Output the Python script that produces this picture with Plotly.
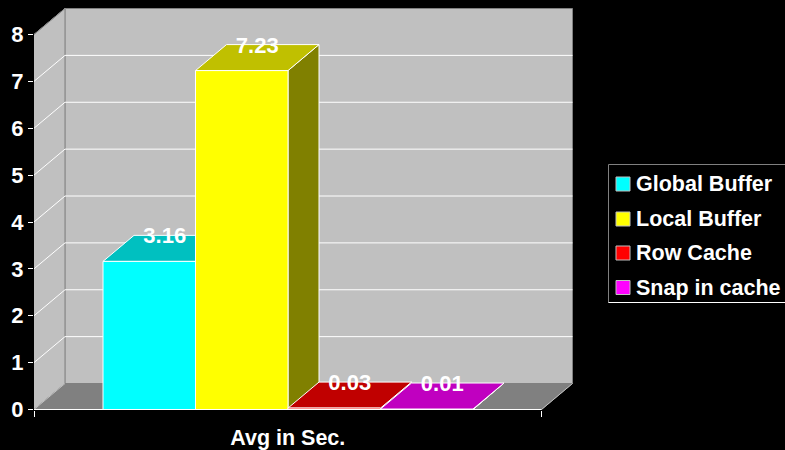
import plotly.graph_objects as go

# Chart data
category = "Avg in Sec."
series_names = ["Global Buffer", "Local Buffer", "Row Cache", "Snap in cache"]
series_values = [3.16, 7.23, 0.03, 0.01]
front_colors = ["#00FFFF", "#FFFF00", "#FF0000", "#FF00FF"]
top_colors = ["#00C0C0", "#C0C000", "#C00000", "#C000C0"]
side_colors = ["#008080", "#808000", "#800000", "#800080"]
value_ticks = [0, 1, 2, 3, 4, 5, 6, 7, 8]

# Axis scale in pixels per unit
X_UNIT = 507.5
Y_UNIT = 46.875

# Oblique projection and bar layout, in axis units
DEPTH_X = 31 / X_UNIT
DEPTH_Y = 26 / Y_UNIT
BAR_WIDTH = 92.5 / X_UNIT
BAR_START = 69 / X_UNIT
LABEL_DROP = 2.5 / Y_UNIT

# Plot area edges in pixels
LEFT, RIGHT, TOP, BOTTOM = 34, 574, 8, 410

FONT = dict(family="Liberation Sans", size=21.5, color="#FFFFFF", weight=700)
BIG_FONT = dict(FONT, size=22)

fig = go.Figure()


def poly(xs, ys, fill, line=None, width=1):
    fig.add_trace(go.Scatter(
        x=list(xs) + [xs[0]], y=list(ys) + [ys[0]], mode="lines", fill="toself",
        fillcolor=fill, line=dict(color=line or fill, width=width),
        hoverinfo="skip", showlegend=False,
    ))


def seg(xs, ys, color="#FFFFFF", width=1):
    fig.add_trace(go.Scatter(
        x=xs, y=ys, mode="lines", line=dict(color=color, width=width),
        hoverinfo="skip", showlegend=False,
    ))


def paper_x(px):
    return (px - LEFT) / (RIGHT - LEFT)


def paper_y(py):
    return (BOTTOM - py) / (BOTTOM - TOP)


top = value_ticks[-1]

# Walls and floor
poly([DEPTH_X, 1 + DEPTH_X, 1 + DEPTH_X, DEPTH_X],
     [DEPTH_Y, DEPTH_Y, top + DEPTH_Y, top + DEPTH_Y], "#C0C0C0", "#808080")
poly([0, DEPTH_X, DEPTH_X, 0], [0, DEPTH_Y, top + DEPTH_Y, top], "#C0C0C0")
seg([DEPTH_X, DEPTH_X], [DEPTH_Y, top + DEPTH_Y], "#808080")
seg([0, DEPTH_X], [top, top + DEPTH_Y], "#808080")
poly([0, 1, 1 + DEPTH_X, DEPTH_X], [0, 0, DEPTH_Y, DEPTH_Y], "#808080")
seg([0, DEPTH_X], [0, DEPTH_Y], "#C0C0C0")
seg([1, 1 + DEPTH_X], [0, DEPTH_Y], "#C0C0C0")

# Gridlines on both walls
for v in value_ticks[1:-1]:
    seg([0, DEPTH_X, 1 + DEPTH_X], [v, v + DEPTH_Y, v + DEPTH_Y], "#FFFFFF")

# Bars, painted left to right so nearer faces cover earlier ones
for i, v in enumerate(series_values):
    x0 = BAR_START + i * BAR_WIDTH
    x1 = x0 + BAR_WIDTH
    poly([x1, x1 + DEPTH_X, x1 + DEPTH_X, x1], [0, DEPTH_Y, v + DEPTH_Y, v],
         side_colors[i], "#FFFFFF")
    poly([x0, x1, x1 + DEPTH_X, x0 + DEPTH_X], [v, v, v + DEPTH_Y, v + DEPTH_Y],
         top_colors[i], "#FFFFFF")
    poly([x0, x1, x1, x0], [0, 0, v, v], front_colors[i], "#FFFFFF")

seg([0, 1], [0, 0])

# Value labels sit over the back edge of each bar top
fig.add_trace(go.Scatter(
    x=[BAR_START + (i + 0.5) * BAR_WIDTH + DEPTH_X / 2 for i in range(len(series_values))],
    y=[v + DEPTH_Y - LABEL_DROP for v in series_values],
    mode="text", text=[f"{v:.2f}" for v in series_values],
    textposition="middle center", textfont=BIG_FONT, hoverinfo="skip", showlegend=False,
))

# Legend panel: grey top and left edges, white bottom edge, running off the right side
legend_rows = [184, 219, 253, 287.5]
shapes = [
    dict(type="rect", xref="paper", yref="paper", layer="above",
         x0=paper_x(608.5), x1=paper_x(800), y0=paper_y(302.5), y1=paper_y(164.5),
         fillcolor="#000000", line=dict(color="#808080", width=1)),
    dict(type="line", xref="paper", yref="paper", layer="above",
         x0=paper_x(608.5), x1=paper_x(785), y0=paper_y(302.5), y1=paper_y(302.5),
         line=dict(color="#FFFFFF", width=1)),
]
annotations = []
for name, color, row in zip(series_names, front_colors, legend_rows):
    shapes.append(dict(
        type="rect", xref="paper", yref="paper", layer="above",
        x0=paper_x(616), x1=paper_x(630), y0=paper_y(row + 7), y1=paper_y(row - 7),
        fillcolor=color, line=dict(color="#C0C0C0", width=1),
    ))
    annotations.append(dict(
        text=name, xref="paper", yref="paper", x=paper_x(635), y=paper_y(row),
        xanchor="left", yanchor="middle", showarrow=False, font=FONT,
        borderpad=0,
    ))

fig.update_layout(
    width=785, height=450, autosize=False,
    margin=dict(l=LEFT, r=785 - RIGHT, t=TOP, b=450 - BOTTOM, autoexpand=False),
    paper_bgcolor="#000000", plot_bgcolor="#000000",
    font=FONT, hovermode=False, showlegend=False,
    shapes=shapes, annotations=annotations,
    xaxis=dict(
        range=[0, (RIGHT - LEFT) / X_UNIT],
        showgrid=False, zeroline=False, showline=False,
        tickmode="array", tickvals=[0.5], ticktext=[category], ticks="",
        ticklabelstandoff=12, tickfont=FONT,
        minor=dict(tickmode="array", tickvals=[0, 1], ticks="outside", ticklen=6,
                   tickcolor="#FFFFFF", tickwidth=1, showgrid=False),
    ),
    yaxis=dict(
        range=[-0.5 / Y_UNIT, (BOTTOM - TOP - 0.5) / Y_UNIT],
        showgrid=False, zeroline=False, showline=False,
        tickmode="array", tickvals=value_ticks, ticks="outside", ticklen=5,
        tickcolor="#FFFFFF", tickwidth=1, tickfont=BIG_FONT,
    ),
)

fig.write_html("out.html")
